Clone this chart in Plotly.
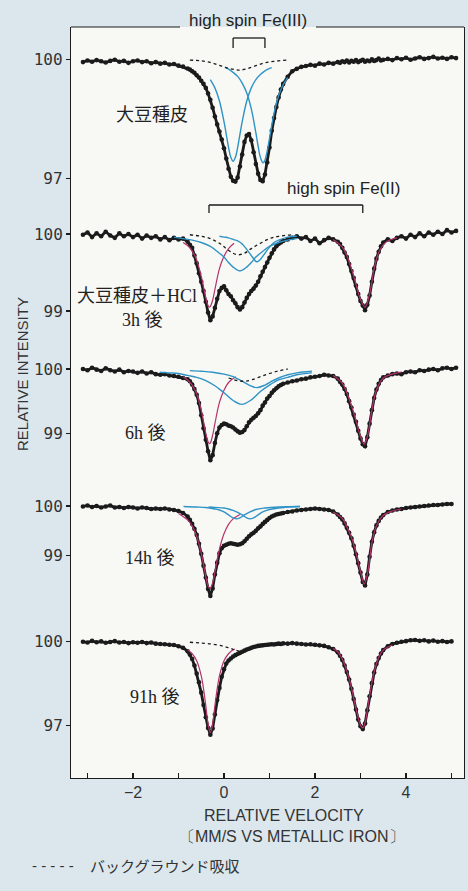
import plotly.graph_objects as go

# ---------------- data ----------------
VELOCITY = [-3.1, -3.0, -2.9, -2.8, -2.7, -2.6, -2.5, -2.4, -2.3, -2.2, -2.1, -2.0, -1.9, -1.8, -1.7, -1.6,
            -1.5, -1.4, -1.3, -1.2, -1.1, -1.0, -0.9, -0.8,
            -0.75, -0.7, -0.65, -0.6, -0.55, -0.5, -0.45, -0.4, -0.35, -0.3, -0.25, -0.2, -0.15, -0.1, -0.05,
            0.0, 0.05, 0.1, 0.15, 0.2, 0.25, 0.3, 0.35, 0.4, 0.45, 0.5, 0.55, 0.6, 0.65, 0.7, 0.75, 0.8, 0.85,
            0.9, 0.95, 1.0, 1.05, 1.1, 1.15, 1.2, 1.25, 1.3,
            1.4, 1.5, 1.6, 1.7, 1.8, 1.9, 2.0, 2.1, 2.2, 2.3, 2.4, 2.5,
            2.55, 2.6, 2.65, 2.7, 2.75, 2.8, 2.85, 2.9, 2.95, 3.0, 3.05, 3.1, 3.15, 3.2, 3.25, 3.3, 3.35, 3.4,
            3.45, 3.5,
            3.6, 3.7, 3.8, 3.9, 4.0, 4.1, 4.2, 4.3, 4.4, 4.5, 4.6, 4.7, 4.8, 4.9, 5.0, 5.1]

SPEC_SEED = [99.93, 99.97, 99.94, 99.98, 99.95, 99.92, 99.96, 99.99, 99.94, 99.96, 99.91, 99.95, 99.97, 99.93,
             99.95, 99.90, 99.93, 99.89, 99.91, 99.87, 99.88, 99.84, 99.82, 99.77,
             99.74, 99.70, 99.66, 99.60, 99.54, 99.46, 99.38, 99.28, 99.14, 98.98, 98.78, 98.56, 98.36, 98.18,
             97.98, 97.76, 97.50, 97.24, 97.04, 96.94, 96.92, 97.02, 97.30, 97.60, 97.92, 98.08, 98.12, 97.96,
             97.66, 97.36, 97.12, 96.96, 96.93, 97.10, 97.40, 97.78, 98.20, 98.52, 98.80, 99.04, 99.24, 99.38,
             99.56, 99.70, 99.76, 99.81, 99.83, 99.86, 99.84, 99.89, 99.87, 99.91, 99.89, 99.93,
             99.91, 99.95, 99.93, 99.97, 99.92, 99.96, 99.94, 99.98, 99.93, 99.96, 99.99, 99.94, 99.97, 99.95,
             100.0, 99.96, 99.98, 100.02, 99.97, 99.99,
             100.01, 99.98, 100.03, 100.0, 100.04, 99.99, 100.02, 100.05, 100.01, 100.03, 100.06, 100.02,
             100.04, 100.01, 100.05, 100.03]

SPEC_3H = [99.99, 100.02, 99.96, 100.01, 99.97, 100.03, 99.98, 99.95, 100.01, 99.97, 100.0, 99.96, 99.99,
           99.94, 99.98, 99.95, 99.97, 99.93, 99.96, 99.92, 99.95, 99.93, 99.94, 99.90,
           99.86, 99.82, 99.72, 99.62, 99.49, 99.38, 99.26, 99.12, 98.98, 98.88, 98.93, 99.04, 99.16, 99.26,
           99.30, 99.32, 99.27, 99.22, 99.19, 99.14, 99.10, 99.05, 99.02, 99.05, 99.11, 99.17, 99.22, 99.26,
           99.29, 99.33, 99.38, 99.45, 99.51, 99.57, 99.63, 99.69, 99.75, 99.80, 99.84, 99.87, 99.89, 99.91,
           99.93, 99.95, 99.97, 99.94, 99.96, 99.91, 99.94, 99.88, 99.92, 99.95, 99.93, 99.90,
           99.87, 99.82, 99.76, 99.70, 99.61, 99.52, 99.43, 99.33, 99.22, 99.13, 99.07, 99.01, 99.08, 99.20,
           99.38, 99.55, 99.68, 99.77, 99.84, 99.89,
           99.93, 99.91, 99.95, 99.97, 99.94, 99.99, 99.96, 100.01, 99.97, 100.02, 99.99, 100.03, 100.0,
           100.05, 100.02, 100.04]

SPEC_6H = [100.0, 99.98, 100.02, 99.99, 99.97, 100.01, 99.98, 99.96, 99.99, 99.95, 99.97, 99.96, 99.94,
           99.96, 99.93, 99.95, 99.92, 99.91, 99.92, 99.90, 99.89, 99.88, 99.86, 99.84,
           99.81, 99.76, 99.69, 99.60, 99.47, 99.28, 99.08, 98.90, 98.72, 98.58, 98.66, 98.85, 99.00, 99.09,
           99.13, 99.15, 99.14, 99.12, 99.11, 99.09, 99.06, 99.03, 99.01, 99.02, 99.05, 99.11, 99.17, 99.21,
           99.24, 99.27, 99.31, 99.36, 99.43, 99.48, 99.54, 99.58, 99.63, 99.67, 99.70, 99.73, 99.75, 99.77,
           99.79, 99.81, 99.82, 99.84, 99.85, 99.87, 99.88, 99.89, 99.91, 99.90, 99.89, 99.85,
           99.80, 99.76, 99.69, 99.61, 99.50, 99.40, 99.29, 99.18, 99.04, 98.92, 98.83, 98.80, 98.94, 99.15,
           99.36, 99.55, 99.68, 99.77, 99.83, 99.87,
           99.90, 99.92, 99.93, 99.92, 99.95, 99.96, 99.95, 99.98, 99.97, 99.99, 100.0, 99.98, 100.01,
           100.02, 100.0, 100.02]

SPEC_14H = [99.99, 100.01, 99.98, 100.0, 99.97, 99.99, 100.01, 99.97, 99.98, 99.96, 99.98, 99.97, 99.95,
            99.97, 99.96, 99.94, 99.95, 99.94, 99.95, 99.93, 99.92, 99.90, 99.86, 99.79,
            99.72, 99.64, 99.54, 99.42, 99.24, 99.04, 98.80, 98.56, 98.33, 98.19, 98.34, 98.62, 98.86, 99.05,
            99.15, 99.20, 99.22, 99.24, 99.25, 99.24, 99.23, 99.22, 99.23, 99.25, 99.29, 99.34, 99.39, 99.43,
            99.46, 99.50, 99.55, 99.59, 99.64, 99.68, 99.72, 99.76, 99.79, 99.81, 99.83, 99.84, 99.85, 99.86,
            99.88, 99.89, 99.91, 99.92, 99.93, 99.94, 99.95, 99.94, 99.93, 99.92, 99.89, 99.83,
            99.78, 99.73, 99.65, 99.56, 99.46, 99.35, 99.20, 99.03, 98.85, 98.66, 98.47, 98.40, 98.62, 98.98,
            99.28, 99.47, 99.61, 99.70, 99.77, 99.82,
            99.88, 99.91, 99.93, 99.94, 99.96, 99.97, 99.98, 99.99, 100.0, 100.01, 100.02, 100.02, 100.03,
            100.04, 100.04, None]

SPEC_91H = [100.0, 99.97, 100.03, 99.98, 100.01, 99.96, 99.99, 100.02, 99.97, 99.99, 99.95, 99.98, 99.96,
            99.99, 99.95, 99.97, 99.93, 99.92, 99.91, 99.89, 99.88, 99.84, 99.78, 99.66,
            99.54, 99.38, 99.15, 98.86, 98.55, 98.18, 97.74, 97.30, 96.92, 96.68, 96.90, 97.40, 97.92, 98.35,
            98.75, 99.02, 99.22, 99.33, 99.40, 99.47, 99.52, 99.56, 99.60, 99.64, 99.68, 99.72, 99.75, 99.78,
            99.81, 99.83, 99.85, 99.86, 99.87, 99.88, 99.89, 99.90, 99.91, 99.90, 99.92, 99.93, 99.92, 99.94,
            99.93, 99.95, 99.93, 99.92, 99.90, 99.91, 99.89, 99.87, 99.85, 99.80, 99.74, 99.62,
            99.50, 99.35, 99.15, 98.92, 98.65, 98.32, 97.95, 97.58, 97.22, 96.98, 96.88, 97.08, 97.55, 98.05,
            98.52, 98.90, 99.20, 99.42, 99.58, 99.70,
            99.84, 99.92, 99.96, 100.0, 100.02, 100.05, 100.06, 100.03, 100.05, 100.01, 100.04, 100.0, 100.02,
            99.99, 100.01, None]

# fitted components
P1_BLUE_A_V = [-0.3, -0.2, -0.1, 0.0, 0.05, 0.1, 0.15, 0.2, 0.25, 0.3, 0.35, 0.4, 0.5, 0.6, 0.7, 0.8, 0.9, 1.0, 1.05]
P1_BLUE_A = [99.49, 99.28, 98.95, 98.43, 98.11, 97.78, 97.53, 97.43, 97.53, 97.78, 98.11, 98.43, 98.95, 99.28,
             99.49, 99.62, 99.71, 99.77, 99.79]
P1_BLUE_B_V = [0.02, 0.1, 0.2, 0.3, 0.4, 0.5, 0.6, 0.7, 0.75, 0.8, 0.86, 0.9, 0.95, 1.0, 1.1, 1.2, 1.3, 1.4]
P1_BLUE_B = [99.80, 99.75, 99.67, 99.57, 99.40, 99.15, 98.75, 98.15, 97.81, 97.53, 97.39, 97.46, 97.69, 98.01,
             98.64, 99.08, 99.36, 99.54]
P1_BG_V = [-0.75, -0.5, -0.3, -0.1, 0.1, 0.25, 0.35, 0.5, 0.7, 0.9, 1.1, 1.38]
P1_BG = [99.98, 99.96, 99.92, 99.85, 99.77, 99.74, 99.73, 99.76, 99.84, 99.91, 99.95, 99.98]

P2_MAG_L_V = [-0.9, -0.8, -0.7, -0.6, -0.5, -0.45, -0.4, -0.35, -0.32, -0.3, -0.25, -0.2, -0.1, 0.0, 0.1, 0.22]
P2_MAG_L = [99.89, 99.85, 99.78, 99.66, 99.45, 99.31, 99.17, 99.07, 99.05, 99.06, 99.14, 99.28, 99.55, 99.71,
            99.81, 99.88]
P2_MAG_R_V = [2.4, 2.6, 2.7, 2.8, 2.9, 3.0, 3.1, 3.2, 3.3, 3.4, 3.5, 3.6, 3.8]
P2_MAG_R = [99.93, 99.83, 99.72, 99.55, 99.35, 99.15, 99.05, 99.22, 99.55, 99.76, 99.86, 99.91, 99.95]
P2_BLUE_A_V = [-1.1, -0.9, -0.7, -0.5, -0.3, -0.1, 0.0, 0.1, 0.2, 0.35, 0.5, 0.6, 0.7, 0.8, 1.0, 1.2, 1.4, 1.6]
P2_BLUE_A = [99.96, 99.94, 99.92, 99.89, 99.84, 99.75, 99.70, 99.63, 99.57, 99.52, 99.57, 99.63, 99.70, 99.75,
             99.84, 99.89, 99.92, 99.94]
P2_BLUE_B_V = [-0.1, 0.0, 0.1, 0.2, 0.3, 0.4, 0.5, 0.6, 0.7, 0.73, 0.8, 0.9, 1.0, 1.1, 1.2, 1.4, 1.6]
P2_BLUE_B = [99.97, 99.96, 99.95, 99.93, 99.91, 99.87, 99.80, 99.72, 99.645, 99.64, 99.67, 99.75, 99.83, 99.89,
             99.92, 99.96, 99.97]
P2_BG_V = [-0.75, -0.5, -0.3, -0.1, 0.05, 0.2, 0.31, 0.45, 0.6, 0.8, 1.0, 1.2, 1.5]
P2_BG = [99.99, 99.97, 99.94, 99.88, 99.81, 99.75, 99.73, 99.75, 99.81, 99.88, 99.94, 99.97, 99.99]

P3_MAG_L_V = [-0.9, -0.8, -0.7, -0.6, -0.5, -0.45, -0.4, -0.35, -0.32, -0.3, -0.25, -0.2, -0.1, 0.0, 0.1, 0.2, 0.26]
P3_MAG_L = [99.88, 99.83, 99.75, 99.61, 99.36, 99.18, 99.0, 98.87, 98.84, 98.85, 98.97, 99.15, 99.48, 99.67,
            99.79, 99.85, 99.88]
P3_MAG_R_V = [2.4, 2.6, 2.7, 2.8, 2.9, 3.0, 3.08, 3.15, 3.25, 3.35, 3.5, 3.7, 3.9]
P3_MAG_R = [99.90, 99.78, 99.63, 99.43, 99.20, 98.95, 98.83, 98.95, 99.36, 99.67, 99.86, 99.92, 99.95]
P3_BLUE_A_V = [-1.41, -1.2, -1.0, -0.8, -0.6, -0.4, -0.2, 0.0, 0.2, 0.39, 0.6, 0.8, 1.0, 1.2, 1.4, 1.6, 1.93]
P3_BLUE_A = [99.95, 99.94, 99.93, 99.90, 99.87, 99.82, 99.74, 99.63, 99.51, 99.45, 99.52, 99.65, 99.75, 99.83,
             99.87, 99.91, 99.94]
P3_BLUE_B_V = [-0.75, -0.5, -0.25, 0.0, 0.2, 0.4, 0.55, 0.72, 0.9, 1.05, 1.2, 1.4, 1.6, 1.93]
P3_BLUE_B = [99.975, 99.965, 99.95, 99.92, 99.88, 99.81, 99.75, 99.71, 99.75, 99.81, 99.86, 99.91, 99.94, 99.965]
P3_BG_V = [0.1, 0.3, 0.45, 0.6, 0.8, 1.0, 1.2, 1.4]
P3_BG = [99.86, 99.82, 99.81, 99.83, 99.88, 99.93, 99.97, 100.0]

P4_MAG_L_V = [-1.0, -0.8, -0.7, -0.6, -0.5, -0.45, -0.4, -0.35, -0.31, -0.25, -0.2, -0.1, 0.0, 0.1, 0.2, 0.35]
P4_MAG_L = [99.85, 99.72, 99.60, 99.39, 99.05, 98.82, 98.58, 98.39, 98.34, 98.45, 98.67, 99.13, 99.44, 99.63,
            99.74, 99.83]
P4_MAG_R_V = [2.4, 2.6, 2.7, 2.8, 2.9, 3.0, 3.08, 3.15, 3.25, 3.35, 3.5, 3.7, 3.9]
P4_MAG_R = [99.88, 99.75, 99.58, 99.37, 99.06, 98.68, 98.43, 98.62, 99.26, 99.60, 99.81, 99.90, 99.94]
P4_BLUE_A_V = [-0.89, -0.6, -0.4, -0.2, -0.1, 0.0, 0.1, 0.2, 0.28, 0.35, 0.45, 0.55, 0.7, 0.9, 1.2, 1.67]
P4_BLUE_A = [99.99, 99.98, 99.97, 99.94, 99.92, 99.88, 99.82, 99.76, 99.74, 99.76, 99.82, 99.87, 99.93, 99.96,
             99.98, 99.99]
P4_BLUE_B_V = [-0.34, -0.2, 0.0, 0.1, 0.2, 0.3, 0.4, 0.5, 0.57, 0.65, 0.75, 0.85, 1.0, 1.2, 1.4, 1.67]
P4_BLUE_B = [99.98, 99.97, 99.96, 99.94, 99.91, 99.87, 99.82, 99.76, 99.74, 99.76, 99.82, 99.88, 99.93, 99.96,
             99.98, 99.99]

P5_MAG_L_V = [-0.8, -0.7, -0.6, -0.5, -0.45, -0.4, -0.35, -0.3, -0.25, -0.2, -0.15, -0.1, 0.0, 0.1, 0.2, 0.24]
P5_MAG_L = [99.71, 99.57, 99.32, 98.78, 98.32, 97.71, 97.06, 96.75, 97.06, 97.71, 98.32, 98.78, 99.32, 99.57,
            99.71, 99.74]
P5_MAG_R_V = [2.4, 2.5, 2.6, 2.7, 2.8, 2.9, 3.0, 3.05, 3.1, 3.2, 3.3, 3.4, 3.5, 3.7]
P5_MAG_R = [99.76, 99.64, 99.38, 98.95, 98.36, 97.62, 97.02, 96.92, 97.10, 98.07, 98.92, 99.44, 99.70, 99.88]
P5_BG_V = [-0.75, -0.5, -0.25, 0.0, 0.2, 0.35]
P5_BG = [99.98, 99.95, 99.91, 99.83, 99.73, 99.64]

PANEL_TICKS = [[97, 100], [99, 100], [99, 100], [99, 100], [97, 100]]
FE3_LINES = [0.2, 0.9]
FE2_LINES = [-0.33, 3.05]
X_TICKS = [-3, -2, -1, 0, 1, 2, 3, 4, 5]
X_TICKTEXT = ["", "−2", "", "0", "", "2", "", "4", ""]

# ---------------- layout geometry (pixels) ----------------
W, H = 468, 891
PLOT_L, PLOT_R, PLOT_T, PLOT_B = 71, 464, 27, 778
X_PX_PER_MM = 45.5
X_ZERO_PX = 224
Y100_PX = [59.3, 234, 369, 506, 641.7]
Y_PX_PER_UNIT = [39.7, 77, 64.3, 49.7, 28]


def py(px):
    return (PLOT_B - px) / (PLOT_B - PLOT_T)


def px_x(px):
    return (px - PLOT_L) / (PLOT_R - PLOT_L)


def vx(px):
    return (px - X_ZERO_PX) / X_PX_PER_MM


BG = "#dce7ed"
INK = "#1b1b1b"
BLUE = "#2f93c6"
MAG = "#b3326c"

fig = go.Figure()

panels = [
    dict(data=SPEC_SEED,
         mag=[], blue=[(P1_BLUE_A_V, P1_BLUE_A), (P1_BLUE_B_V, P1_BLUE_B)], bg=[(P1_BG_V, P1_BG)]),
    dict(data=SPEC_3H,
         mag=[(P2_MAG_L_V, P2_MAG_L), (P2_MAG_R_V, P2_MAG_R)],
         blue=[(P2_BLUE_A_V, P2_BLUE_A), (P2_BLUE_B_V, P2_BLUE_B)], bg=[(P2_BG_V, P2_BG)]),
    dict(data=SPEC_6H,
         mag=[(P3_MAG_L_V, P3_MAG_L), (P3_MAG_R_V, P3_MAG_R)],
         blue=[(P3_BLUE_A_V, P3_BLUE_A), (P3_BLUE_B_V, P3_BLUE_B)], bg=[(P3_BG_V, P3_BG)]),
    dict(data=SPEC_14H,
         mag=[(P4_MAG_L_V, P4_MAG_L), (P4_MAG_R_V, P4_MAG_R)],
         blue=[(P4_BLUE_A_V, P4_BLUE_A), (P4_BLUE_B_V, P4_BLUE_B)], bg=[]),
    dict(data=SPEC_91H,
         mag=[(P5_MAG_L_V, P5_MAG_L), (P5_MAG_R_V, P5_MAG_R)],
         blue=[], bg=[(P5_BG_V, P5_BG)]),
]

for i, p in enumerate(panels):
    yref = "y" if i == 0 else f"y{i + 1}"
    fig.add_trace(go.Scatter(x=VELOCITY, y=p["data"], xaxis="x", yaxis=yref, mode="lines+markers",
                             line=dict(color=INK, width=2.8), marker=dict(color=INK, size=4.6),
                             connectgaps=False, showlegend=False, hoverinfo="skip"))
    for xv, yv in p["mag"]:
        fig.add_trace(go.Scatter(x=xv, y=yv, xaxis="x", yaxis=yref, mode="lines",
                                 line=dict(color=MAG, width=1.2, shape="spline"),
                                 showlegend=False, hoverinfo="skip"))
    for xv, yv in p["blue"]:
        fig.add_trace(go.Scatter(x=xv, y=yv, xaxis="x", yaxis=yref, mode="lines",
                                 line=dict(color=BLUE, width=1.4, shape="spline"),
                                 showlegend=False, hoverinfo="skip"))
    for xv, yv in p["bg"]:
        fig.add_trace(go.Scatter(x=xv, y=yv, xaxis="x", yaxis=yref, mode="lines",
                                 line=dict(color=INK, width=1.3, dash="dot", shape="spline"),
                                 showlegend=False, hoverinfo="skip"))

layout = dict(
    width=W, height=H, autosize=False,
    margin=dict(l=PLOT_L, r=W - PLOT_R, t=PLOT_T, b=H - PLOT_B, pad=0, autoexpand=False),
    paper_bgcolor=BG, plot_bgcolor="#f8f8f5",
    showlegend=False,
    xaxis=dict(domain=[0, 1], range=[vx(PLOT_L), vx(PLOT_R)], anchor="y", automargin=False,
               showline=True, mirror=False, linecolor=INK, linewidth=1.2,
               ticks="inside", ticklen=5, tickwidth=1.2, tickcolor=INK,
               tickvals=X_TICKS, ticktext=X_TICKTEXT,
               tickfont=dict(family="Liberation Sans, Arial, sans-serif", size=16, color="#333"),
               showgrid=False, zeroline=False, fixedrange=True),
)

for i in range(5):
    lo = 100 - (PLOT_B - Y100_PX[i]) / Y_PX_PER_UNIT[i]
    hi = 100 + (Y100_PX[i] - PLOT_T) / Y_PX_PER_UNIT[i]
    ax = dict(domain=[0, 1], range=[lo, hi], anchor="x", side="left", automargin=False,
              tickvals=PANEL_TICKS[i], ticktext=[str(t) for t in PANEL_TICKS[i]],
              ticks="outside", ticklen=4, tickwidth=1.2, tickcolor=INK,
              tickfont=dict(family="DejaVu Sans Mono, monospace", size=16, color="#333"),
              showgrid=False, zeroline=False, fixedrange=True)
    if i == 0:
        ax.update(showline=True, mirror=True, linecolor=INK, linewidth=1.2)
    else:
        ax.update(overlaying="y", showline=False)
    layout["yaxis" if i == 0 else f"yaxis{i + 1}"] = ax
    # right-hand tick at 100 for every panel
    layout[f"yaxis{i + 6}"] = dict(domain=[0, 1], range=[lo, hi], anchor="x", side="right",
                                   overlaying="y", tickvals=[100], ticks="outside", ticklen=4,
                                   tickwidth=1.2, tickcolor=INK, showticklabels=False, automargin=False,
                                   showgrid=False, zeroline=False, showline=False, fixedrange=True)

fig.update_layout(**layout)

# top frame edge (broken by the Fe(III) label) and brackets marking the doublets
shapes = [
    dict(type="line", xref="paper", yref="paper", x0=0, x1=px_x(180), y0=1, y1=1,
         line=dict(color=INK, width=1.2)),
    dict(type="line", xref="paper", yref="paper", x0=px_x(316), x1=1, y0=1, y1=1,
         line=dict(color=INK, width=1.2)),
]
for lines, ytop_px, ybot_px in [(FE3_LINES, 38, 48), (FE2_LINES, 205, 213)]:
    shapes.append(dict(type="line", xref="x", yref="paper", x0=lines[0], x1=lines[1],
                       y0=py(ytop_px), y1=py(ytop_px), line=dict(color=INK, width=1.3)))
    for v in lines:
        shapes.append(dict(type="line", xref="x", yref="paper", x0=v, x1=v,
                           y0=py(ytop_px), y1=py(ybot_px), line=dict(color=INK, width=1.3)))
fig.update_layout(shapes=shapes)

SANS = "Liberation Sans, Arial, sans-serif"
JP = "Noto Sans CJK JP, sans-serif"
JPSERIF = "Liberation Serif, Noto Sans CJK JP, serif"

ann = [
    dict(text="high spin Fe(III)", x=vx(248), y=py(20), font=dict(family=SANS, size=17, color="#222")),
    dict(text="high spin Fe(II)", x=vx(343), y=py(189), font=dict(family=SANS, size=17, color="#222")),
    dict(text="大豆種皮", x=vx(152), y=py(113), font=dict(family=JP, size=18, color="#222")),
    dict(text="大豆種皮＋HCl", x=vx(137), y=py(296), font=dict(family=JPSERIF, size=18, color="#222")),
    dict(text="3h 後", x=vx(142), y=py(320), font=dict(family=JPSERIF, size=18, color="#222")),
    dict(text="6h 後", x=vx(145), y=py(433), font=dict(family=JPSERIF, size=18, color="#222")),
    dict(text="14h 後", x=vx(150), y=py(558), font=dict(family=JPSERIF, size=18, color="#222")),
    dict(text="91h 後", x=vx(155), y=py(697), font=dict(family=JPSERIF, size=18, color="#222")),
]
annotations = []
for a in ann:
    a.update(xref="x", yref="paper", showarrow=False, xanchor="center", yanchor="middle")
    annotations.append(a)

annotations += [
    dict(text="RELATIVE VELOCITY", xref="paper", yref="paper", x=px_x(284), xanchor="center",
         y=py(815), yanchor="middle", showarrow=False, font=dict(family=SANS, size=16, color="#333")),
    dict(text="〔MM/S VS METALLIC IRON〕", xref="paper", yref="paper", x=px_x(292), xanchor="center",
         y=py(836), yanchor="middle", showarrow=False, font=dict(family=SANS, size=16, color="#333")),
    dict(text="RELATIVE INTENSITY", xref="paper", yref="paper", x=px_x(22), xanchor="center",
         y=py(374), yanchor="middle", showarrow=False, textangle=-90,
         font=dict(family=SANS, size=15, color="#333")),
    dict(text="- - - - -", xref="paper", yref="paper",
         x=px_x(30), xanchor="left", y=py(865), yanchor="middle",
         showarrow=False, font=dict(family=SANS, size=15, color="#333")),
    dict(text="バックグラウンド吸収", xref="paper", yref="paper",
         x=px_x(88), xanchor="left", y=py(865), yanchor="middle",
         showarrow=False, font=dict(family=JP, size=15, color="#333")),
]
fig.update_layout(annotations=annotations)

fig.write_html("out.html", config={"displayModeBar": False, "staticPlot": True},
               post_script="document.body.style.margin='0px';document.body.style.overflow='hidden';")
